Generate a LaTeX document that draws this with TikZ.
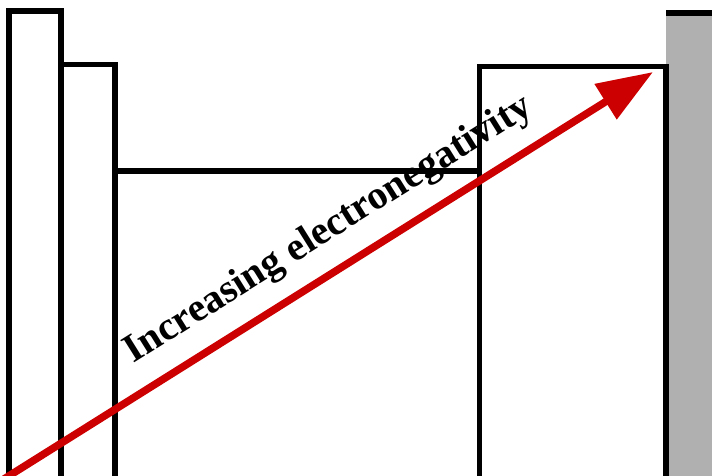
\documentclass[tikz,border=0pt]{standalone}
\usepackage{fontspec}
\setmainfont{Liberation Serif}
\usetikzlibrary{arrows.meta}
\definecolor{arrowred}{RGB}{204,0,0}
\definecolor{noblegray}{RGB}{176,176,176}
\begin{document}
\begin{tikzpicture}[x=1pt,y=-1pt,
  outline/.style={draw=black,line width=5.5pt,line join=miter},
  bigarrow/.style={draw=arrowred,line width=7.5pt,-{Triangle[length=56pt,width=40pt]}},
  label/.style={font=\fontsize{40}{44}\selectfont\bfseries,anchor=base,rotate=32.06,inner sep=0pt}]
\useasboundingbox (0,0) rectangle (712,476);
\clip (0,0) rectangle (712,476);
% gray column
\fill[noblegray] (666,13) rectangle (720,490);
% outlines
\draw[outline] (9,490) -- (9,11) -- (61,11) -- (61,490);
\draw[outline] (61,64.5) -- (115,64.5) -- (115,490);
\draw[outline] (115,171) -- (479.5,171);
\draw[outline] (479.5,490) -- (479.5,66.5) -- (666,66.5) -- (666,490);
\draw[outline] (666,13) -- (720,13);
% arrow
\coordinate (tail) at (4,479);
\coordinate (tip) at (653,72);
\draw[bigarrow] (tail) -- (tip);
\node[label] (lbl) at (334,238) {Increasing electronegativity};
\end{tikzpicture}
\end{document}
